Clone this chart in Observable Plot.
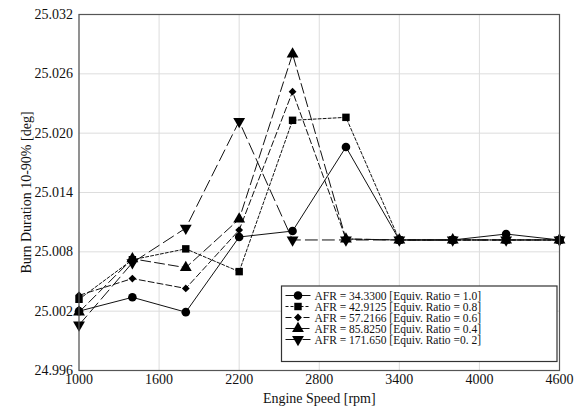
<!DOCTYPE html>
<html><head><meta charset="utf-8">
<script src="https://cdn.jsdelivr.net/npm/d3@7"></script>
<script src="https://cdn.jsdelivr.net/npm/@observablehq/plot@0.6"></script>
<style>
body{margin:0;background:#fff;}
</style>
</head><body><div id="chart"></div>
<script>
const rpm = [1000,1400,1800,2200,2600,3000,3400,3800,4200,4600];
const seriesNames = [
  "AFR = 34.3300 [Equiv. Ratio = 1.0]",
  "AFR = 42.9125 [Equiv. Ratio = 0.8]",
  "AFR = 57.2166 [Equiv. Ratio = 0.6]",
  "AFR = 85.8250 [Equiv. Ratio = 0.4]",
  "AFR = 171.650 [Equiv. Ratio =0. 2]"
];
const afr34  = [25.0020,25.0034,25.0019,25.0095,25.0101,25.0186,25.0092,25.0092,25.0098,25.0092];
const afr43  = [25.0032,25.0072,25.0083,25.0060,25.0213,25.0216,25.0092,25.0092,25.0092,25.0092];
const afr57  = [25.0036,25.0053,25.0043,25.0102,25.0242,25.0093,25.0092,25.0092,25.0092,25.0092];
const afr86  = [25.0019,25.0073,25.0064,25.0113,25.0280,25.0093,25.0092,25.0092,25.0092,25.0092];
const afr172 = [25.0006,25.0069,25.0104,25.0212,25.0092,25.0092,25.0092,25.0092,25.0092,25.0092];
const xTicks = [1000,1600,2200,2800,3400,4000,4600];
const yTicks = [24.996,25.002,25.008,25.014,25.020,25.026,25.032];

const styles = [
  {symbol:"circle", dash:null, rotate:0, r:4.3},
  {symbol:"square", dash:"3,2", rotate:0, r:4.2},
  {symbol:"square", dash:"6,3", rotate:45, r:3.1},
  {symbol:"triangle", dash:"10,4", rotate:0, r:4.4},
  {symbol:"triangle", dash:"12,5", rotate:180, r:4.4}
];
const allSeries = [afr34, afr43, afr57, afr86, afr172];
const marks = [];
allSeries.forEach((vals, i) => {
  const data = rpm.map((x, j) => ({x, y: vals[j]}));
  const s = styles[i];
  marks.push(Plot.line(data, {x:"x", y:"y", stroke:"#111", strokeWidth:1, strokeDasharray:s.dash}));
  marks.push(Plot.dot(data, {x:"x", y:"y", symbol:s.symbol, fill:"#000", stroke:"none", r:s.r, rotate:s.rotate}));
});

const font = "'Liberation Serif', 'Times New Roman', serif";
const chart = Plot.plot({
  width: 579, height: 406,
  marginLeft: 78.5, marginRight: 20, marginTop: 14, marginBottom: 36,
  style: {fontFamily: font, fontSize: "14px", background: "#fff", color: "#111"},
  x: {domain:[1000,4600], ticks: xTicks},
  y: {domain:[24.996,25.032], ticks: yTicks},
  marks: [
    Plot.gridX(xTicks, {stroke:"#ddd", strokeOpacity:1, strokeWidth:1}),
    Plot.gridY(yTicks, {stroke:"#ddd", strokeOpacity:1, strokeWidth:1}),
    Plot.axisX(xTicks, {tickSize:0, tickPadding:4, tickFormat: d => String(d), fontSize:14, label:"Engine Speed [rpm]", labelAnchor:"center", labelArrow:"none", labelOffset:32}),
    Plot.axisY(yTicks, {tickSize:0, tickPadding:6, tickFormat: d => d.toFixed(3), fontSize:14, label:"Burn Duration 10-90% [deg]", labelAnchor:"center", labelArrow:"none", labelOffset:58}),
    ...marks,
    Plot.frame({stroke:"#555", strokeWidth:1.2})
  ]
});
document.getElementById("chart").appendChild(chart);

// legend inside plot area
const svg = d3.select(chart);
const lg = svg.append("g").attr("font-family", font).attr("font-size", 11.5).attr("text-anchor", "start");
const bx = 281.5, by = 286, bw = 275.5, bh = 75.5;
lg.append("rect").attr("x", bx).attr("y", by).attr("width", bw).attr("height", bh)
  .attr("fill", "#fff").attr("stroke", "#333").attr("stroke-width", 1.2);
const symGen = {circle: d3.symbolCircle, square: d3.symbolSquare, triangle: d3.symbolTriangle};
seriesNames.forEach((name, i) => {
  const s = styles[i];
  const yy = by + 9.5 + i * 11;
  lg.append("line").attr("x1", bx + 4).attr("x2", bx + 29).attr("y1", yy).attr("y2", yy)
    .attr("stroke", "#111").attr("stroke-width", 1).attr("stroke-dasharray", s.dash);
  lg.append("path").attr("d", d3.symbol(symGen[s.symbol], Math.PI * s.r * s.r)())
    .attr("transform", `translate(${bx + 16.5},${yy}) rotate(${s.rotate})`).attr("fill", "#000");
  lg.append("text").attr("x", bx + 33).attr("y", yy).attr("dy", "0.35em").attr("text-anchor", "start").attr("fill", "#111").text(name);
});
</script>
</body></html>
